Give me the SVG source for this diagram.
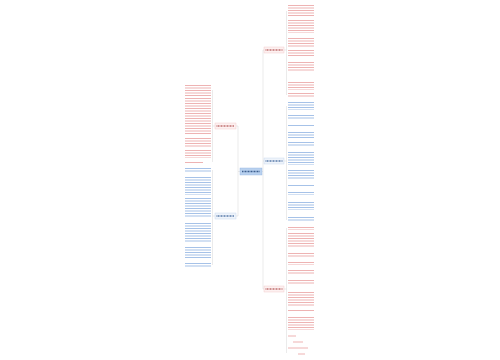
<svg xmlns="http://www.w3.org/2000/svg" width="500" height="360" viewBox="0 0 500 360">
<style>
.r{stroke:#eeb3b3;stroke-width:26;stroke-dasharray:1 1.5}
.b{stroke:#a6c2e8;stroke-width:26;stroke-dasharray:1 1.5}
.c{stroke:#d6d6d6;stroke-width:0.5;fill:none}
.lr{fill:#fdf1f1;stroke:#edc3c3;stroke-width:0.4}
.lb{fill:#eff4fb;stroke:#bfd1ea;stroke-width:0.4}
.tr{stroke:#c07070;stroke-width:1.3;stroke-dasharray:1 0.5}
.tb{stroke:#5a7cab;stroke-width:1.3;stroke-dasharray:1 0.5}
.s{stroke:#eeb3b3;stroke-width:1}
</style>
<rect width="500" height="360" fill="#ffffff"/>
<g id="connectors">
<path class="c" d="M240 171.5H238V126H236M238 171.5V216H236"/>
<path class="c" d="M262 171.5H263V50H264M263 161H264M263 171.5V289H264"/>
<path class="c" d="M215 126H212.5M212.5 90V162M215 216H212.5M212.5 170V265"/>
<path class="c" d="M284 50H286.5M286.5 11V95M284 161H286.5M286.5 106V220M284 289H286.5M286.5 228V353"/>
</g>
<g id="root">
<rect x="240" y="168" width="22" height="7" fill="#b9d1ef" stroke="#8fb2e0" stroke-width="0.4"/>
<line x1="242" y1="171.5" x2="260" y2="171.5" stroke="#3d5f8f" stroke-width="1.4" stroke-dasharray="1 0.5"/>
</g>
<g id="left-branch-1">
<rect class="lr" x="215" y="123" width="21" height="6"/>
<line class="tr" x1="216.5" y1="126" x2="234.5" y2="126"/>
<line class="r" x1="198" y1="85" x2="198" y2="96"/>
<line class="r" x1="198" y1="98" x2="198" y2="135"/>
<line class="r" x1="198" y1="138" x2="198" y2="147"/>
<line class="r" x1="198" y1="150" x2="198" y2="158"/>
<line class="s" x1="185" y1="162.5" x2="203" y2="162.5"/>
</g>
<g id="left-branch-2">
<rect class="lb" x="215" y="213" width="21" height="6"/>
<line class="tb" x1="216.5" y1="216" x2="234.5" y2="216"/>
<line class="b" x1="198" y1="168" x2="198" y2="172"/>
<line class="b" x1="198" y1="177" x2="198" y2="195"/>
<line class="b" x1="198" y1="198" x2="198" y2="218"/>
<line class="b" x1="198" y1="223" x2="198" y2="243"/>
<line class="b" x1="198" y1="247" x2="198" y2="258"/>
<line class="b" x1="198" y1="263" x2="198" y2="267"/>
</g>
<g id="right-branch-1">
<rect class="lr" x="264" y="47" width="20" height="6"/>
<line class="tr" x1="265.5" y1="50" x2="282.5" y2="50"/>
<line class="r" x1="301" y1="5" x2="301" y2="17"/>
<line class="r" x1="301" y1="20" x2="301" y2="33"/>
<line class="r" x1="301" y1="38" x2="301" y2="47"/>
<line class="r" x1="301" y1="50" x2="301" y2="57"/>
<line class="r" x1="301" y1="62" x2="301" y2="72"/>
<line class="r" x1="301" y1="82" x2="301" y2="90"/>
<line class="r" x1="301" y1="93" x2="301" y2="97"/>
</g>
<g id="right-branch-2">
<rect class="lb" x="264" y="158" width="20" height="6"/>
<line class="tb" x1="265.5" y1="161" x2="282.5" y2="161"/>
<line class="b" x1="301" y1="102" x2="301" y2="110"/>
<line class="b" x1="301" y1="115" x2="301" y2="120"/>
<line class="b" x1="301" y1="125" x2="301" y2="127"/>
<line class="b" x1="301" y1="132" x2="301" y2="138"/>
<line class="b" x1="301" y1="142" x2="301" y2="147"/>
<line class="b" x1="301" y1="152" x2="301" y2="165"/>
<line class="b" x1="301" y1="170" x2="301" y2="180"/>
<line class="b" x1="301" y1="185" x2="301" y2="187"/>
<line class="b" x1="301" y1="192" x2="301" y2="195"/>
<line class="b" x1="301" y1="202" x2="301" y2="210"/>
<line class="b" x1="301" y1="217" x2="301" y2="222"/>
</g>
<g id="right-branch-3">
<rect class="lr" x="264" y="286" width="20" height="6"/>
<line class="tr" x1="265.5" y1="289" x2="282.5" y2="289"/>
<line class="r" x1="301" y1="227" x2="301" y2="230"/>
<line class="r" x1="301" y1="233" x2="301" y2="248"/>
<line class="r" x1="301" y1="253" x2="301" y2="258"/>
<line class="r" x1="301" y1="262" x2="301" y2="265"/>
<line class="r" x1="301" y1="270" x2="301" y2="275"/>
<line class="r" x1="301" y1="280" x2="301" y2="285"/>
<line class="r" x1="301" y1="292" x2="301" y2="307"/>
<line class="r" x1="301" y1="310" x2="301" y2="312"/>
<line class="r" x1="301" y1="317" x2="301" y2="330"/>
<line class="s" x1="288" y1="336" x2="296" y2="336"/>
<line class="s" x1="293" y1="342" x2="303" y2="342"/>
<line class="s" x1="288" y1="348" x2="308" y2="348"/>
<line class="s" x1="298" y1="354" x2="305" y2="354"/>
</g>
</svg>
